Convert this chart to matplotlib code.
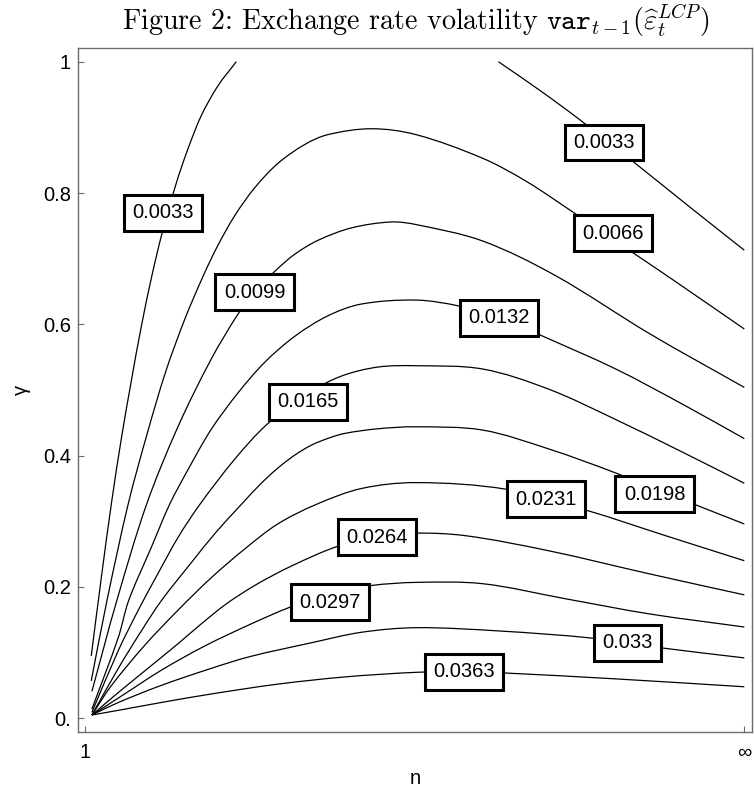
import numpy as np
import matplotlib
matplotlib.use("Agg")
import matplotlib.pyplot as plt
from matplotlib.path import Path
from matplotlib.patches import PathPatch

plt.rcParams['mathtext.fontset'] = 'cm'
plt.rcParams['font.family'] = ['Liberation Sans', 'DejaVu Sans']

# ---- data: contour lines of var_{t-1}(eps_t^LCP) ----
# x: compactified n (0 -> n=1, 1 -> n=infinity), y: gamma
levels = ['0.0033', '0.0033', '0.0066', '0.0099', '0.0132', '0.0165',
          '0.0198', '0.0231', '0.0264', '0.0297', '0.033', '0.0363']

x_0033a = [0.009, 0.024, 0.040, 0.055, 0.070, 0.085, 0.101, 0.116, 0.138, 0.156,
           0.176, 0.201, 0.229]
y_0033a = [0.095, 0.212, 0.330, 0.428, 0.515, 0.597, 0.674, 0.737, 0.815, 0.868,
           0.918, 0.963, 1.000]

x_0033b = [0.627, 0.689, 0.750, 0.840, 0.917, 1.000]
y_0033b = [1.000, 0.957, 0.912, 0.841, 0.779, 0.713]

x_0066 = [0.009, 0.033, 0.065, 0.094, 0.122, 0.151, 0.179, 0.201, 0.227, 0.257,
          0.292, 0.333, 0.368, 0.434, 0.502, 0.603, 0.669, 0.740, 0.800, 0.846,
          0.893, 1.000]
y_0066 = [0.057, 0.180, 0.326, 0.434, 0.528, 0.608, 0.674, 0.720, 0.766, 0.808,
          0.845, 0.874, 0.889, 0.898, 0.889, 0.853, 0.818, 0.771, 0.730, 0.699,
          0.667, 0.593]

x_0099 = [0.010, 0.048, 0.093, 0.141, 0.191, 0.230, 0.257, 0.291, 0.318, 0.353,
          0.404, 0.464, 0.502, 0.603, 0.714, 0.856, 1.000]
y_0099 = [0.041, 0.180, 0.326, 0.445, 0.547, 0.613, 0.650, 0.684, 0.707, 0.728,
          0.747, 0.756, 0.752, 0.727, 0.674, 0.586, 0.504]

x_0132 = [0.010, 0.050, 0.066, 0.100, 0.128, 0.156, 0.191, 0.232, 0.272, 0.318,
          0.368, 0.419, 0.502, 0.567, 0.630, 0.692, 0.805, 0.907, 1.000]
y_0132 = [0.014, 0.123, 0.180, 0.260, 0.326, 0.379, 0.440, 0.496, 0.542, 0.582,
          0.613, 0.631, 0.637, 0.628, 0.610, 0.583, 0.532, 0.478, 0.426]

x_0165 = [0.010, 0.050, 0.080, 0.110, 0.141, 0.174, 0.227, 0.276, 0.338, 0.388,
          0.444, 0.502, 0.603, 0.704, 0.805, 0.907, 1.000]
y_0165 = [0.009, 0.103, 0.164, 0.220, 0.276, 0.326, 0.395, 0.448, 0.495, 0.521,
          0.535, 0.537, 0.532, 0.501, 0.455, 0.405, 0.358]

x_0198 = [0.010, 0.050, 0.085, 0.116, 0.160, 0.198, 0.237, 0.265, 0.292, 0.318,
          0.343, 0.370, 0.394, 0.444, 0.502, 0.603, 0.704, 0.804, 0.924, 1.000]
y_0198 = [0.005, 0.076, 0.133, 0.180, 0.236, 0.283, 0.326, 0.356, 0.381, 0.401,
          0.416, 0.427, 0.434, 0.441, 0.444, 0.439, 0.410, 0.374, 0.326, 0.296]

x_0231 = [0.010, 0.039, 0.090, 0.141, 0.191, 0.242, 0.292, 0.351, 0.419, 0.502,
          0.638, 0.760, 0.881, 1.000]
y_0231 = [0.005, 0.049, 0.111, 0.165, 0.214, 0.258, 0.296, 0.326, 0.350, 0.359,
          0.349, 0.317, 0.278, 0.240]

x_0264 = [0.010, 0.045, 0.090, 0.140, 0.175, 0.215, 0.260, 0.313, 0.383, 0.443,
          0.502, 0.578, 0.704, 0.856, 1.000]
y_0264 = [0.005, 0.035, 0.072, 0.113, 0.143, 0.175, 0.204, 0.232, 0.262, 0.276,
          0.282, 0.278, 0.255, 0.220, 0.188]

x_0297 = [0.010, 0.055, 0.115, 0.181, 0.250, 0.310, 0.371, 0.432, 0.502, 0.603,
          0.729, 0.856, 1.000]
y_0297 = [0.005, 0.034, 0.073, 0.110, 0.143, 0.169, 0.190, 0.202, 0.207, 0.205,
          0.182, 0.159, 0.139]

x_0330 = [0.010, 0.050, 0.115, 0.191, 0.250, 0.343, 0.419, 0.502, 0.628, 0.770,
          0.876, 1.000]
y_0330 = [0.005, 0.024, 0.050, 0.076, 0.094, 0.115, 0.131, 0.138, 0.133, 0.122,
          0.107, 0.092]

x_0363 = [0.010, 0.055, 0.115, 0.191, 0.292, 0.394, 0.502, 0.575, 0.636, 0.805, 1.000]
y_0363 = [0.005, 0.013, 0.024, 0.037, 0.052, 0.063, 0.070, 0.071, 0.069, 0.060, 0.048]

curves_x = [x_0033a, x_0033b, x_0066, x_0099, x_0132, x_0165,
            x_0198, x_0231, x_0264, x_0297, x_0330, x_0363]
curves_y = [y_0033a, y_0033b, y_0066, y_0099, y_0132, y_0165,
            y_0198, y_0231, y_0264, y_0297, y_0330, y_0363]

label_x = [0.118, 0.787, 0.801, 0.257, 0.628, 0.338, 0.864, 0.699, 0.443, 0.371, 0.823, 0.575]
label_y = [0.770, 0.877, 0.739, 0.649, 0.610, 0.482, 0.341, 0.334, 0.276, 0.177, 0.115, 0.071]

ytick_vals = [0.0, 0.2, 0.4, 0.6, 0.8, 1.0]
ytick_text = ['0.', '0.2', '0.4', '0.6', '0.8', '1']
xtick_vals = [0.0, 1.0]
xtick_text = ['1', '\u221e']


def smooth_path(xs, ys):
    """Bezier path passing through the given points (drawing style only)."""
    P = np.column_stack([xs, ys]).astype(float)
    n = len(P)
    T = np.zeros_like(P)
    for i in range(n):
        a = P[max(i - 1, 0)]
        b = P[min(i + 1, n - 1)]
        d = b - a
        T[i] = d / np.hypot(*d)
    verts = [P[0]]
    codes = [Path.MOVETO]
    for i in range(n - 1):
        L = np.hypot(*(P[i + 1] - P[i]))
        verts += [P[i] + T[i] * L / 3, P[i + 1] - T[i + 1] * L / 3, P[i + 1]]
        codes += [Path.CURVE4] * 3
    return Path(verts, codes)


# ---- figure ----
W, H = 754, 791
fig = plt.figure(figsize=(W / 100, H / 100), dpi=100)
ax = fig.add_axes([78 / W, 1 - 732 / H, (752 - 78) / W, (732 - 48) / H])
ax.set_xlim(-0.0111, 1.0117)
ax.set_ylim(-0.0209, 1.0210)

for cx, cy in zip(curves_x, curves_y):
    ax.add_patch(PathPatch(smooth_path(cx, cy), fill=False, ec='black',
                           lw=0.9, zorder=2))

for lx, ly, lt in zip(label_x, label_y, levels):
    ax.text(lx, ly, lt, ha='center', va='center', fontsize=14.5, zorder=5,
            bbox=dict(boxstyle='square,pad=0.42', fc='white', ec='black', lw=2.2))

frame_col = '#6b6b6b'
for s in ax.spines.values():
    s.set_color(frame_col)
    s.set_linewidth(1.0)

ax.set_yticks(ytick_vals)
ax.set_yticklabels(ytick_text)
ax.set_xticks(xtick_vals)
ax.set_xticklabels(xtick_text)
ax.tick_params(direction='in', length=4, width=0.8, color=frame_col,
               labelsize=14.5, labelcolor='black')
ax.tick_params(axis='y', pad=5)
ax.tick_params(axis='x', pad=8)

fig.text(415 / W, 1 - 778 / H, 'n', ha='center', va='center', fontsize=14.5)
fig.text(21 / W, 1 - 390 / H, '\u03b3', ha='center', va='center', fontsize=14.5, rotation=90)

title = r'Figure 2: Exchange rate volatility $\mathtt{var}_{t-1}(\widehat{\varepsilon}_t^{LCP})$'
fig.text(416 / W, 1 - 30 / H, title, ha='center', va='baseline', fontsize=20.2,
         family='cmr10')

fig.savefig('out.png', dpi=100)
